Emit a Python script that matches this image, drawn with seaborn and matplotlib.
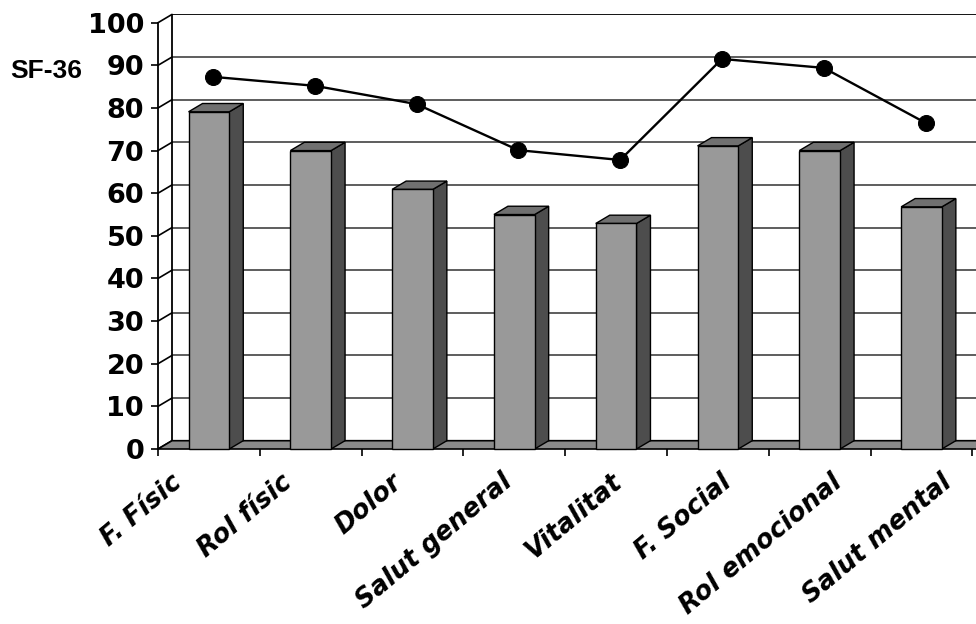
import numpy as np
import matplotlib
matplotlib.use("Agg")
import matplotlib.pyplot as plt
import matplotlib.transforms as mtransforms
from matplotlib.patches import Polygon
import seaborn as sns

# SF-36 dimension scores
categories = ["F. Físic", "Rol físic", "Dolor", "Salut general",
              "Vitalitat", "F. Social", "Rol emocional", "Salut mental"]
bar_values = [79.1, 70.0, 60.9, 55.0, 52.9, 71.1, 70.0, 56.8]
line_values = [87.3, 85.2, 80.9, 70.1, 67.8, 91.5, 89.4, 76.5]
y_ticks = list(range(0, 101, 10))
y_title = "SF-36"

sns.set_theme(style="white")
plt.rcParams["font.family"] = ["DejaVu Sans"]
plt.rcParams["text.color"] = "black"

W, H = 976, 624
fig = plt.figure(figsize=(W / 100, H / 100), dpi=100)
fig.patch.set_facecolor("white")

# frame geometry (pixels)
x0_px, cat_px = 158, 101.8
y0_px, unit_px = 449, 4.263
depth_x_px, depth_y_px = 14, 8.3

xmin = -0.5
xmax = xmin + (W - x0_px) / cat_px
ymax = 102
top_px = y0_px - ymax * unit_px
ax = fig.add_axes([x0_px / W, (H - y0_px) / H, (W - x0_px) / W, (y0_px - top_px) / H])
ax.patch.set_alpha(0)

ddx = depth_x_px / cat_px
ddy = depth_y_px / unit_px

# front columns
sns.barplot(x=categories, y=bar_values, color="#999999", saturation=1,
            width=0.4, edgecolor="black", linewidth=1.0, ax=ax, zorder=4)
bars = list(ax.patches)

ax.set_xlim(xmin, xmax)
ax.set_ylim(0, ymax)

# back wall gridlines and edges
for v in y_ticks[1:]:
    ax.plot([xmin + ddx, xmax + 1], [v + ddy, v + ddy],
            color="black" if v == 100 else "#505050", lw=1.3, zorder=1,
            solid_capstyle="butt")
ax.plot([xmin + ddx, xmin + ddx], [ddy, 100 + ddy], color="black", lw=1.3, zorder=1)
# side wall diagonals
for v in y_ticks:
    ax.plot([xmin, xmin + ddx], [v, v + ddy], color="black", lw=1.2, zorder=1,
            clip_on=False)

# floor
floor = Polygon([(xmin, 0), (xmin + ddx, ddy), (xmax + 1, ddy), (xmax + 1, 0)],
                closed=True, facecolor="#8a8a8a", edgecolor="black", lw=1.2,
                zorder=2, clip_on=False)
ax.add_patch(floor)

# 3D faces of the columns
for b in bars:
    x, w, h = b.get_x(), b.get_width(), b.get_height()
    side = Polygon([(x + w, 0), (x + w + ddx, ddy), (x + w + ddx, h + ddy), (x + w, h)],
                   closed=True, facecolor="#4d4d4d", edgecolor="black", lw=1.0, zorder=3.9)
    top = Polygon([(x, h), (x + ddx, h + ddy), (x + w + ddx, h + ddy), (x + w, h)],
                  closed=True, facecolor="#707070", edgecolor="black", lw=1.0, zorder=3.9)
    ax.add_patch(side)
    ax.add_patch(top)
    b.set_clip_on(False)

# overlay line
xpos = np.arange(len(categories)) + 0.04
sns.lineplot(x=xpos, y=line_values, color="black", lw=1.7, marker="o",
             markersize=11.5, markeredgecolor="black", markerfacecolor="black",
             legend=False, ax=ax, zorder=6)
for ln in ax.lines[-1:]:
    ln.set_clip_on(False)

ax.set_xlim(xmin, xmax)
ax.set_ylim(0, ymax)

# spines
for s in ["top", "right", "bottom"]:
    ax.spines[s].set_visible(False)
ax.spines["left"].set_bounds(0, 100)
ax.spines["left"].set_color("black")
ax.spines["left"].set_linewidth(1.3)

# y axis
ax.set_yticks(y_ticks)
ax.set_yticklabels([str(t) for t in y_ticks], fontsize=19.5, fontweight="bold",
                   family="DejaVu Sans", color="black")
ax.tick_params(axis="y", direction="out", length=5, width=1.2, color="black", pad=5,
               left=True)

# x axis ticks at category boundaries
ax.set_xticks(np.arange(len(categories) + 1) - 0.5)
ax.set_xticklabels([""] * (len(categories) + 1))
ax.tick_params(axis="x", direction="out", length=5, width=1.2, color="black",
               bottom=True)
ax.set_xlabel("")
ax.set_ylabel("")

# rotated category labels
for i, lab in enumerate(categories):
    off_x = (-30 + 8.2 * i) * 0.72
    off_y = -30 * 0.72
    tr = mtransforms.offset_copy(ax.transData, fig=fig, x=off_x, y=off_y, units="points")
    ax.text(i, 0, lab, transform=tr, rotation=40, rotation_mode="anchor",
            ha="right", va="center", fontsize=18.5, fontweight="bold",
            fontstyle="oblique", family="DejaVu Sans", color="black", clip_on=False)

fig.text(10 / W, 1 - 78 / H, y_title, ha="left", va="baseline", fontsize=19,
         fontweight="bold", family=["Liberation Sans", "DejaVu Sans"], color="black")

fig.savefig("out.png", dpi=100)
